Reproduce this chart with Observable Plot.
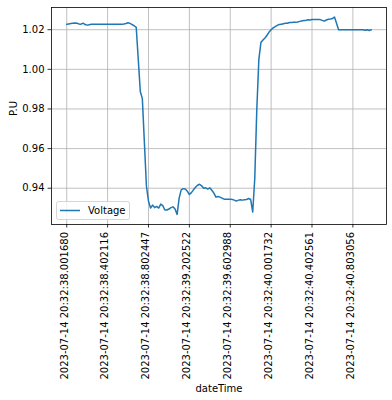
<!DOCTYPE html>
<html>
<head>
<meta charset="utf-8">
<script src="https://cdn.jsdelivr.net/npm/d3@7"></script>
<script src="https://cdn.jsdelivr.net/npm/@observablehq/plot@0.6"></script>
<style>
  html, body { margin: 0; padding: 0; background: white; }
  #chart { width: 392px; height: 400px; }
</style>
</head>
<body>
<div id="chart"></div>
<script>
// Voltage (per unit) sampled every index step
const values = [
  1.0227, 1.0229, 1.0231, 1.0233, 1.0234, 1.0233, 1.0229, 1.0228, 1.0233, 1.0226,
  1.0223, 1.0225, 1.0227, 1.0228, 1.0228, 1.0228, 1.0228, 1.0228, 1.0228, 1.0228,
  1.0228, 1.0228, 1.0228, 1.0228, 1.0228, 1.0228, 1.0228, 1.0228, 1.0229, 1.0231,
  1.0235, 1.0232, 1.0226, 1.0220, 1.0212, 1.0050, 0.9888, 0.9852, 0.9630, 0.9410,
  0.9335, 0.9300, 0.9315, 0.9302, 0.9308, 0.9300, 0.9320, 0.9312, 0.9290, 0.9290,
  0.9295, 0.9302, 0.9306, 0.9295, 0.9268, 0.9350, 0.9392, 0.9398, 0.9396, 0.9385,
  0.9368, 0.9378, 0.9392, 0.9405, 0.9415, 0.9420, 0.9412, 0.9400, 0.9402, 0.9396,
  0.9402, 0.9390, 0.9375, 0.9355, 0.9358, 0.9355, 0.9350, 0.9345, 0.9345, 0.9345,
  0.9345, 0.9343, 0.9340, 0.9335, 0.9340, 0.9342, 0.9340, 0.9342, 0.9343, 0.9348,
  0.9343, 0.9280, 0.9450, 0.9800, 1.0050, 1.0135, 1.0148, 1.0158, 1.0172, 1.0188,
  1.0200, 1.0209, 1.0216, 1.0222, 1.0226, 1.0228, 1.0230, 1.0232, 1.0233, 1.0236,
  1.0236, 1.0237, 1.0237, 1.0239, 1.0242, 1.0244, 1.0246, 1.0247, 1.0250, 1.0249,
  1.0251, 1.0251, 1.0251, 1.0252, 1.0251, 1.0247, 1.0243, 1.0249, 1.0253, 1.0254,
  1.0256, 1.0264, 1.0232, 1.0200, 1.0200, 1.0200, 1.0200, 1.0200, 1.0200, 1.0200,
  1.0200, 1.0200, 1.0200, 1.0200, 1.0200, 1.0200, 1.0197, 1.0200, 1.0196, 1.0200
];
const seriesName = "Voltage";
const xTickIndex = [0, 20, 40, 60, 80, 100, 120, 140];
const xTickLabels = [
  "2023-07-14 20:32:38.001680",
  "2023-07-14 20:32:38.402116",
  "2023-07-14 20:32:38.802447",
  "2023-07-14 20:32:39.202522",
  "2023-07-14 20:32:39.602988",
  "2023-07-14 20:32:40.001732",
  "2023-07-14 20:32:40.402561",
  "2023-07-14 20:32:40.803056"
];
const yTicks = [0.94, 0.96, 0.98, 1.00, 1.02];
const xLabel = "dateTime";
const yLabel = "P.U";

const data = values.map((v, i) => ({i, v}));
const n = values.length - 1;
const lineColor = "#1f77b4";
const gridColor = "#b0b0b0";

const chart = Plot.plot({
  width: 392,
  height: 400,
  marginTop: 7,
  marginRight: 6,
  marginBottom: 176,
  marginLeft: 51,
  style: {fontFamily: "DejaVu Sans", fontSize: "10px", background: "white", color: "black"},
  x: {domain: [-0.05 * n, 1.05 * n]},
  y: {domain: [0.9217, 1.0312]},
  marks: [
    Plot.gridX(xTickIndex, {stroke: gridColor, strokeOpacity: 1, strokeWidth: 0.8}),
    Plot.gridY(yTicks, {stroke: gridColor, strokeOpacity: 1, strokeWidth: 0.8}),
    Plot.line(data, {x: "i", y: "v", stroke: lineColor, strokeWidth: 1.5}),
    Plot.frame({stroke: "black", strokeWidth: 0.8}),
    Plot.axisX(xTickIndex, {
      tickFormat: () => "", tickSize: 3.5, strokeWidth: 0.8, label: null
    }),
    Plot.text(xTickIndex, {
      x: d => d, text: d => xTickLabels[xTickIndex.indexOf(d)],
      frameAnchor: "bottom", rotate: -90, textAnchor: "end", lineAnchor: "bottom",
      dx: 0.8, dy: 7.5, fill: "black"
    }),
    Plot.text([xLabel], {frameAnchor: "bottom", dy: 164, lineAnchor: "middle", fill: "black"}),
    Plot.axisY(yTicks, {
      tickFormat: d3.format(".2f"), tickSize: 3.5, tickPadding: 3.5, strokeWidth: 0.8,
      label: null
    }),
    Plot.text([yLabel], {frameAnchor: "left", dx: -34.5, rotate: -90, lineAnchor: "bottom", fill: "black"})
  ]
});
document.getElementById("chart").appendChild(chart);

// legend (matplotlib style, lower left inside axes)
const svg = d3.select(chart);
const g = svg.append("g").attr("font-family", "DejaVu Sans").attr("font-size", 10)
  .attr("text-anchor", "start");
g.append("rect").attr("x", 56.5).attr("y", 201.5).attr("width", 73).attr("height", 18)
  .attr("rx", 2).attr("fill", "white").attr("fill-opacity", 0.8)
  .attr("stroke", "#cccccc").attr("stroke-width", 0.8);
g.append("line").attr("x1", 60).attr("x2", 80).attr("y1", 210.5).attr("y2", 210.5)
  .attr("stroke", lineColor).attr("stroke-width", 1.5);
g.append("text").attr("x", 88).attr("y", 214).attr("fill", "black")
  .attr("text-anchor", "start").text(seriesName);
</script>
</body>
</html>
